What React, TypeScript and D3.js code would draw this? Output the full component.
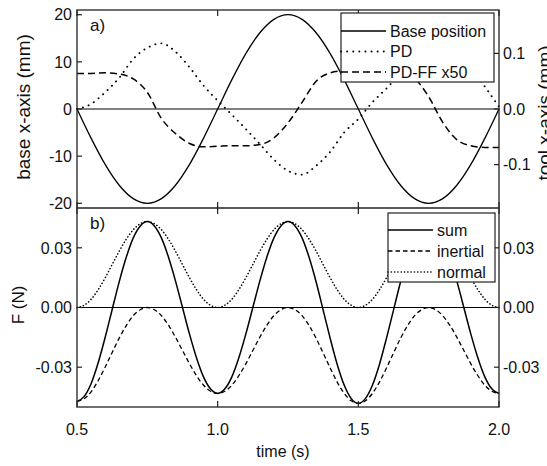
import React from "react";
import * as d3 from "d3";

// panel a) time base (s)
const tA = [
  0.5, 0.55, 0.6, 0.65, 0.7, 0.75, 0.8, 0.85, 0.9, 0.95, 1.0, 1.05, 1.1, 1.15, 1.2, 1.25,
  1.3, 1.35, 1.4, 1.45, 1.5, 1.55, 1.6, 1.65, 1.7, 1.75, 1.8, 1.85, 1.9, 1.95, 2.0,
];
// base position (mm, left axis)
const basePos = [
  0, -6.18, -11.76, -16.18, -19.02, -20, -19.02, -16.18, -11.76, -6.18, 0, 6.18, 11.76, 16.18,
  19.02, 20, 19.02, 16.18, 11.76, 6.18, 0, -6.18, -11.76, -16.18, -19.02, -20, -19.02, -16.18,
  -11.76, -6.18, 0,
];
// tool error, PD (mm, right axis)
const pdErr = [
  0.0, 0.009, 0.03, 0.056, 0.09, 0.11, 0.118, 0.103, 0.075, 0.042, 0.015, -0.01, -0.036, -0.063,
  -0.091, -0.111, -0.118, -0.102, -0.077, -0.042, -0.018, 0.012, 0.037, 0.064, 0.09, 0.11, 0.117,
  0.102, 0.074, 0.04, 0.004,
];
// tool error, PD-FF x50 (mm, right axis)
const pdffErr = [
  0.064, 0.064, 0.065, 0.063, 0.054, 0.03, -0.017, -0.044, -0.062, -0.068, -0.067, -0.066, -0.066,
  -0.064, -0.052, -0.025, 0.012, 0.05, 0.065, 0.069, 0.07, 0.07, 0.07, 0.067, 0.055, 0.022, -0.024,
  -0.055, -0.066, -0.069, -0.069,
];

// panel b) time base (s)
const tB = [
  0.5, 0.525, 0.55, 0.575, 0.6, 0.625, 0.65, 0.675, 0.7, 0.725, 0.75, 0.775, 0.8, 0.825, 0.85,
  0.875, 0.9, 0.925, 0.95, 0.975, 1.0, 1.025, 1.05, 1.075, 1.1, 1.125, 1.15, 1.175, 1.2, 1.225,
  1.25, 1.275, 1.3, 1.325, 1.35, 1.375, 1.4, 1.425, 1.45, 1.475, 1.5, 1.525, 1.55, 1.575, 1.6,
  1.625, 1.65, 1.675, 1.7, 1.725, 1.75, 1.775, 1.8, 1.825, 1.85, 1.875, 1.9, 1.925, 1.95, 1.975,
  2.0,
];
const fSum = [
  -0.0472, -0.0448, -0.0383, -0.0279, -0.0151, -0.001, 0.0129, 0.0252, 0.035, 0.041, 0.0432,
  0.041, 0.035, 0.0254, 0.0134, 0, -0.0134, -0.0254, -0.035, -0.041, -0.0432, -0.041, -0.035,
  -0.0254, -0.0134, 0, 0.0134, 0.0254, 0.035, 0.041, 0.0432, 0.041, 0.035, 0.0252, 0.0128,
  -0.0013, -0.0155, -0.0286, -0.0391, -0.0458, -0.0482, -0.0458, -0.0391, -0.0286, -0.0155,
  -0.0013, 0.0128, 0.0252, 0.035, 0.041, 0.0432, 0.041, 0.035, 0.0254, 0.0134, 0, -0.0134,
  -0.0254, -0.035, -0.041, -0.0432,
];
const fInertial = [
  -0.0472, -0.0459, -0.0424, -0.0368, -0.03, -0.0226, -0.0154, -0.0091, -0.0041, -0.0011, 0,
  -0.0011, -0.0041, -0.0089, -0.0149, -0.0216, -0.0283, -0.0343, -0.0391, -0.0421, -0.0432,
  -0.0421, -0.0391, -0.0343, -0.0283, -0.0216, -0.0149, -0.0089, -0.0041, -0.0011, 0, -0.0011,
  -0.0041, -0.0091, -0.0155, -0.0229, -0.0304, -0.0375, -0.0432, -0.0469, -0.0482, -0.0469,
  -0.0432, -0.0375, -0.0304, -0.0229, -0.0155, -0.0091, -0.0041, -0.0011, 0, -0.0011, -0.0041,
  -0.0089, -0.0149, -0.0216, -0.0283, -0.0343, -0.0391, -0.0421, -0.0432,
];
const fNormal = [
  0, 0.0011, 0.0041, 0.0089, 0.0149, 0.0216, 0.0283, 0.0343, 0.0391, 0.0421, 0.0432, 0.0421,
  0.0391, 0.0343, 0.0283, 0.0216, 0.0149, 0.0089, 0.0041, 0.0011, 0, 0.0011, 0.0041, 0.0089,
  0.0149, 0.0216, 0.0283, 0.0343, 0.0391, 0.0421, 0.0432, 0.0421, 0.0391, 0.0343, 0.0283, 0.0216,
  0.0149, 0.0089, 0.0041, 0.0011, 0, 0.0011, 0.0041, 0.0089, 0.0149, 0.0216, 0.0283, 0.0343,
  0.0391, 0.0421, 0.0432, 0.0421, 0.0391, 0.0343, 0.0283, 0.0216, 0.0149, 0.0089, 0.0041, 0.0011,
  0,
];

const timeTicks = [0.5, 1.0, 1.5, 2.0];
const baseTicks = [-20, -10, 0, 10, 20];
const toolTicks = [-0.1, 0.0, 0.1];
const forceTicks = [-0.03, 0.0, 0.03];

const legendA = ["Base position", "PD", "PD-FF x50"];
const legendB = ["sum", "inertial", "normal"];

const font = "'Liberation Sans', Arial, Helvetica, sans-serif";

export default function App() {
  const left = 77,
    right = 499,
    topA = 10,
    midY = 208,
    botB = 407;

  const x = d3.scaleLinear().domain([0.5, 2.0]).range([left, right]);
  const yBase = d3.scaleLinear().domain([-21, 21]).range([midY, topA]);
  const yTool = d3.scaleLinear().domain([-0.178, 0.178]).range([midY, topA]);
  const yF = d3.scaleLinear().domain([-0.05, 0.05]).range([botB, midY]);

  const path = (ts: number[], ys: number[], sy: d3.ScaleLinear<number, number>) =>
    d3
      .line<number>()
      .x((_, i) => x(ts[i]))
      .y((d) => sy(d))
      .curve(d3.curveMonotoneX)(ys) || "";

  const fmt = (f: string) => (v: number) => d3.format(f)(v).replace("\u2212", "-");

  // line styles
  const solid = { stroke: "#000", strokeWidth: 1.3, fill: "none" };
  const dotA = { ...solid, strokeWidth: 1.9, strokeDasharray: "0.1,6", strokeLinecap: "round" as const };
  const dashA = { ...solid, strokeWidth: 1.5, strokeDasharray: "7,4" };
  const dashB = { ...solid, strokeWidth: 1.3, strokeDasharray: "4.5,3" };
  const dotB = { ...solid, strokeWidth: 1.6, strokeDasharray: "0.1,3.2", strokeLinecap: "round" as const };

  const tickLen = 6;
  const txt = { fontFamily: font, fontSize: 16, fill: "#111" };

  return (
    <svg
      width={547}
      height={466}
      style={{ position: "absolute", left: 0, top: 0, background: "#fff" }}
    >
      <rect width={547} height={466} fill="#fff" />

      {/* zero lines */}
      <line x1={left} x2={right} y1={yBase(0)} y2={yBase(0)} stroke="#000" strokeWidth={1.2} />
      <line x1={left} x2={right} y1={yF(0)} y2={yF(0)} stroke="#000" strokeWidth={1.2} />

      {/* panel a curves */}
      <path d={path(tA, basePos, yBase)} {...solid} />
      <path d={path(tA, pdErr, yTool)} {...dotA} />
      <path d={path(tA, pdffErr, yTool)} {...dashA} />

      {/* panel b curves */}
      <path d={path(tB, fNormal, yF)} {...dotB} />
      <path d={path(tB, fInertial, yF)} {...dashB} />
      <path d={path(tB, fSum, yF)} {...solid} strokeWidth={1.5} />

      {/* frames */}
      <rect x={left} y={topA} width={right - left} height={botB - topA} fill="none" stroke="#222" strokeWidth={1.3} />
      <line x1={left} x2={right} y1={midY} y2={midY} stroke="#222" strokeWidth={1.3} />

      {/* x ticks */}
      {timeTicks.map((t) => (
        <g key={"xt" + t} stroke="#222" strokeWidth={1.2}>
          <line x1={x(t)} x2={x(t)} y1={topA} y2={topA + tickLen} />
          <line x1={x(t)} x2={x(t)} y1={midY - tickLen} y2={midY + tickLen} />
          <line x1={x(t)} x2={x(t)} y1={botB} y2={botB - tickLen} />
        </g>
      ))}
      {timeTicks.map((t) => (
        <text key={"xl" + t} x={x(t)} y={435} textAnchor="middle" {...txt}>
          {fmt(".1f")(t)}
        </text>
      ))}

      {/* panel a left axis */}
      {baseTicks.map((v) => (
        <g key={"bt" + v}>
          <line x1={left} x2={left + 5} y1={yBase(v)} y2={yBase(v)} stroke="#222" strokeWidth={1.2} />
          <text x={left - 5} y={yBase(v)} dy="0.36em" textAnchor="end" {...txt}>
            {fmt("d")(v)}
          </text>
        </g>
      ))}
      {/* panel a right axis */}
      {toolTicks.map((v) => (
        <g key={"tt" + v}>
          <line x1={right - 5} x2={right} y1={yTool(v)} y2={yTool(v)} stroke="#222" strokeWidth={1.2} />
          <text x={right + 4} y={yTool(v)} dy="0.36em" textAnchor="start" {...txt}>
            {fmt(".1f")(v)}
          </text>
        </g>
      ))}
      {/* panel b axes */}
      {forceTicks.map((v) => (
        <g key={"ft" + v}>
          <line x1={left} x2={left + 5} y1={yF(v)} y2={yF(v)} stroke="#222" strokeWidth={1.2} />
          <line x1={right - 5} x2={right} y1={yF(v)} y2={yF(v)} stroke="#222" strokeWidth={1.2} />
          <text x={left - 5} y={yF(v)} dy="0.36em" textAnchor="end" {...txt}>
            {fmt(".2f")(v)}
          </text>
          <text x={right + 4} y={yF(v)} dy="0.36em" textAnchor="start" {...txt}>
            {fmt(".2f")(v)}
          </text>
        </g>
      ))}

      {/* axis titles */}
      <text transform="translate(30,107) rotate(-90)" textAnchor="middle" {...txt} fontSize={19}>
        base x-axis (mm)
      </text>
      <text transform="translate(551,113) rotate(-90)" textAnchor="middle" {...txt} fontSize={19}>
        tool x-axis (mm)
      </text>
      <text transform="translate(24,305) rotate(-90)" textAnchor="middle" {...txt} fontSize={17}>
        F (N)
      </text>
      <text x={283} y={457} textAnchor="middle" {...txt} fontSize={16}>
        time (s)
      </text>

      {/* panel labels */}
      <text x={90} y={31} {...txt} fontSize={17}>
        a)
      </text>
      <text x={90} y={229} {...txt} fontSize={17}>
        b)
      </text>

      {/* legend a */}
      <g>
        <rect x={341} y={13} width={153} height={69} fill="#fff" stroke="#222" strokeWidth={1.2} />
        {legendA.map((name, i) => {
          const yy = 31 + i * 20.5;
          const st = i === 0 ? solid : i === 1 ? dotA : dashA;
          return (
            <g key={name}>
              <line x1={341} x2={386} y1={yy} y2={yy} {...st} />
              <text x={390} y={yy} dy="0.36em" {...txt}>
                {name}
              </text>
            </g>
          );
        })}
      </g>

      {/* legend b */}
      <g>
        <rect x={388} y={213} width={107} height={69} fill="#fff" stroke="#222" strokeWidth={1.2} />
        {legendB.map((name, i) => {
          const yy = 230 + i * 21;
          const st = i === 0 ? solid : i === 1 ? dashB : dotB;
          return (
            <g key={name}>
              <line x1={388} x2={433} y1={yy} y2={yy} {...st} />
              <text x={437} y={yy} dy="0.36em" {...txt}>
                {name}
              </text>
            </g>
          );
        })}
      </g>
    </svg>
  );
}
